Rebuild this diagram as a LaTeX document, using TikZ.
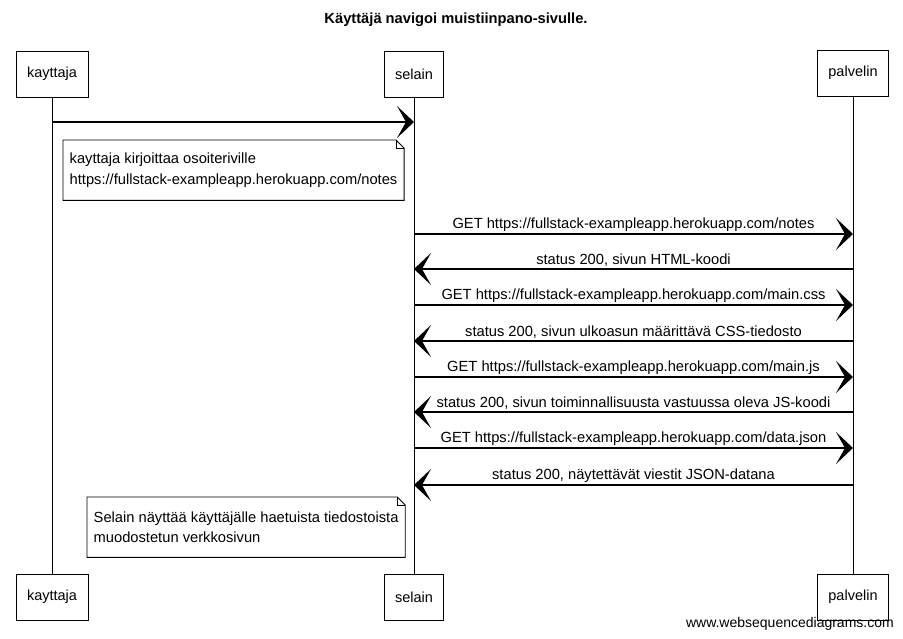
\documentclass[tikz,border=0pt]{standalone}
\usepackage{fontspec}
\setmainfont{Liberation Sans}
\usetikzlibrary{arrows.meta}

\tikzset{
    actor/.style={draw, line width=0.9pt, minimum height=46pt, inner xsep=11pt, font=\fontsize{14.5}{16}\selectfont},
    lifeline/.style={line width=0.8pt},
    msg/.style={line width=1.1pt, -{Stealth[length=17pt, width=32pt, inset=9pt]}},
    msglabel/.style={above, inner sep=2pt, font=\fontsize{14.7}{16}\selectfont},
    notetext/.style={anchor=north west, align=left, inner xsep=6.5pt, minimum height=60pt, font=\fontsize{14.7}{20.5}\selectfont},
    notebox/.style={line width=0.9pt}
}

\begin{document}
\begin{tikzpicture}[x=1pt, y=-1pt]
    \useasboundingbox (0,0) rectangle (903,639);

    \node[font=\bfseries\fontsize{14.7}{16}\selectfont] (title) at (456,20) {Käyttäjä navigoi muistiinpano-sivulle.};

    \node[actor] (kayttajaTop) at (52,74) {kayttaja};
    \node[actor] (selainTop) at (414,74) {selain};
    \node[actor] (palvelinTop) at (853,73) {palvelin};
    \node[actor] (kayttajaBottom) at (52,597) {kayttaja};
    \node[actor] (selainBottom) at (414,597) {selain};
    \node[actor] (palvelinBottom) at (853,597) {palvelin};

    \draw[lifeline] (kayttajaTop) -- (kayttajaBottom);
    \draw[lifeline] (selainTop) -- (selainBottom);
    \draw[lifeline] (palvelinTop) -- (palvelinBottom);

    \coordinate (k0) at (52,122);
    \coordinate (s0) at (414,122);
    \draw[msg] (k0) -- (s0);

    \node[notetext] (note1) at (63,140) {kayttaja kirjoittaa osoiteriville\\https://fullstack-exampleapp.herokuapp.com/notes};
    \draw[notebox] (note1.north west) -- ([xshift=-8pt]note1.north east) -- ([yshift=-8pt]note1.north east) -- (note1.south east) -- (note1.south west) -- cycle;
    \draw[notebox] ([xshift=-8pt]note1.north east) |- ([yshift=-8pt]note1.north east);

    \coordinate (s1) at (414,234);
    \coordinate (p1) at (853,234);
    \coordinate (s2) at (414,269);
    \coordinate (p2) at (853,269);
    \coordinate (s3) at (414,305);
    \coordinate (p3) at (853,305);
    \coordinate (s4) at (414,341);
    \coordinate (p4) at (853,341);
    \coordinate (s5) at (414,377);
    \coordinate (p5) at (853,377);
    \coordinate (s6) at (414,412);
    \coordinate (p6) at (853,412);
    \coordinate (s7) at (414,448);
    \coordinate (p7) at (853,448);
    \coordinate (s8) at (414,485);
    \coordinate (p8) at (853,485);

    \draw[msg] (s1) -- node[msglabel] {GET https://fullstack-exampleapp.herokuapp.com/notes} (p1);
    \draw[msg] (p2) -- node[msglabel] {status 200, sivun HTML-koodi} (s2);
    \draw[msg] (s3) -- node[msglabel] {GET https://fullstack-exampleapp.herokuapp.com/main.css} (p3);
    \draw[msg] (p4) -- node[msglabel] {status 200, sivun ulkoasun määrittävä CSS-tiedosto} (s4);
    \draw[msg] (s5) -- node[msglabel] {GET https://fullstack-exampleapp.herokuapp.com/main.js} (p5);
    \draw[msg] (p6) -- node[msglabel] {status 200, sivun toiminnallisuusta vastuussa oleva JS-koodi} (s6);
    \draw[msg] (s7) -- node[msglabel] {GET https://fullstack-exampleapp.herokuapp.com/data.json} (p7);
    \draw[msg] (p8) -- node[msglabel] {status 200, näytettävät viestit JSON-datana} (s8);

    \node[notetext] (note2) at (87,497) {Selain näyttää käyttäjälle haetuista tiedostoista\\muodostetun verkkosivun};
    \draw[notebox] (note2.north west) -- ([xshift=-8pt]note2.north east) -- ([yshift=-8pt]note2.north east) -- (note2.south east) -- (note2.south west) -- cycle;
    \draw[notebox] ([xshift=-8pt]note2.north east) |- ([yshift=-8pt]note2.north east);

    \node[anchor=east, inner sep=0pt, font=\fontsize{14}{16}\selectfont] (footer) at (894,624) {www.websequencediagrams.com};
\end{tikzpicture}
\end{document}
